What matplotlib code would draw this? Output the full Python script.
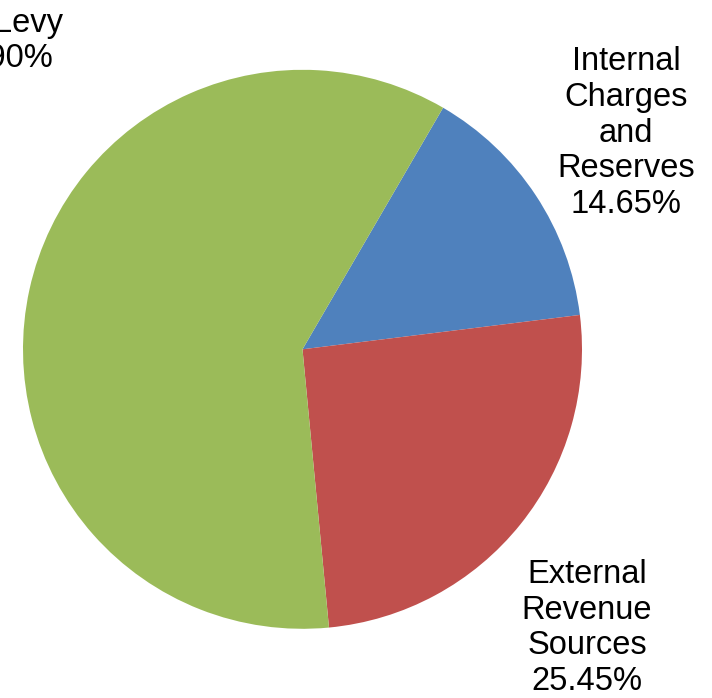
import matplotlib
matplotlib.use("Agg")
import matplotlib.pyplot as plt

# Revenue composition
categories = ["Internal\nCharges\nand\nReserves", "External\nRevenue\nSources", "Tax Levy"]
shares = [14.65, 25.45, 59.90]
colors = ["#4F81BD", "#C0504D", "#9BBB59"]

W, H = 712, 698
fig = plt.figure(figsize=(W / 100, H / 100), dpi=100)
ax = fig.add_axes([0, 0, 1, 1])

cx, cy, r = 302.5, H - 349.3, 279.5
ax.pie(shares, colors=colors, startangle=59.8, counterclock=False,
       center=(cx, cy), radius=r, frame=True,
       wedgeprops=dict(linewidth=0))
ax.set_xlim(0, W)
ax.set_ylim(0, H)
ax.axis("off")

label_pos = [(626, H - 133), (587, H - 628), (-2, H - 41)]
for name, val, (x, y) in zip(categories, shares, label_pos):
    ax.text(x, y, f"{name}\n{val:.2f}%", ha="center", va="center",
            multialignment="center", fontsize=23.5,
            family="Liberation Sans", color="black", linespacing=1.2,
            clip_on=False)

fig.savefig("out.png", dpi=100)
